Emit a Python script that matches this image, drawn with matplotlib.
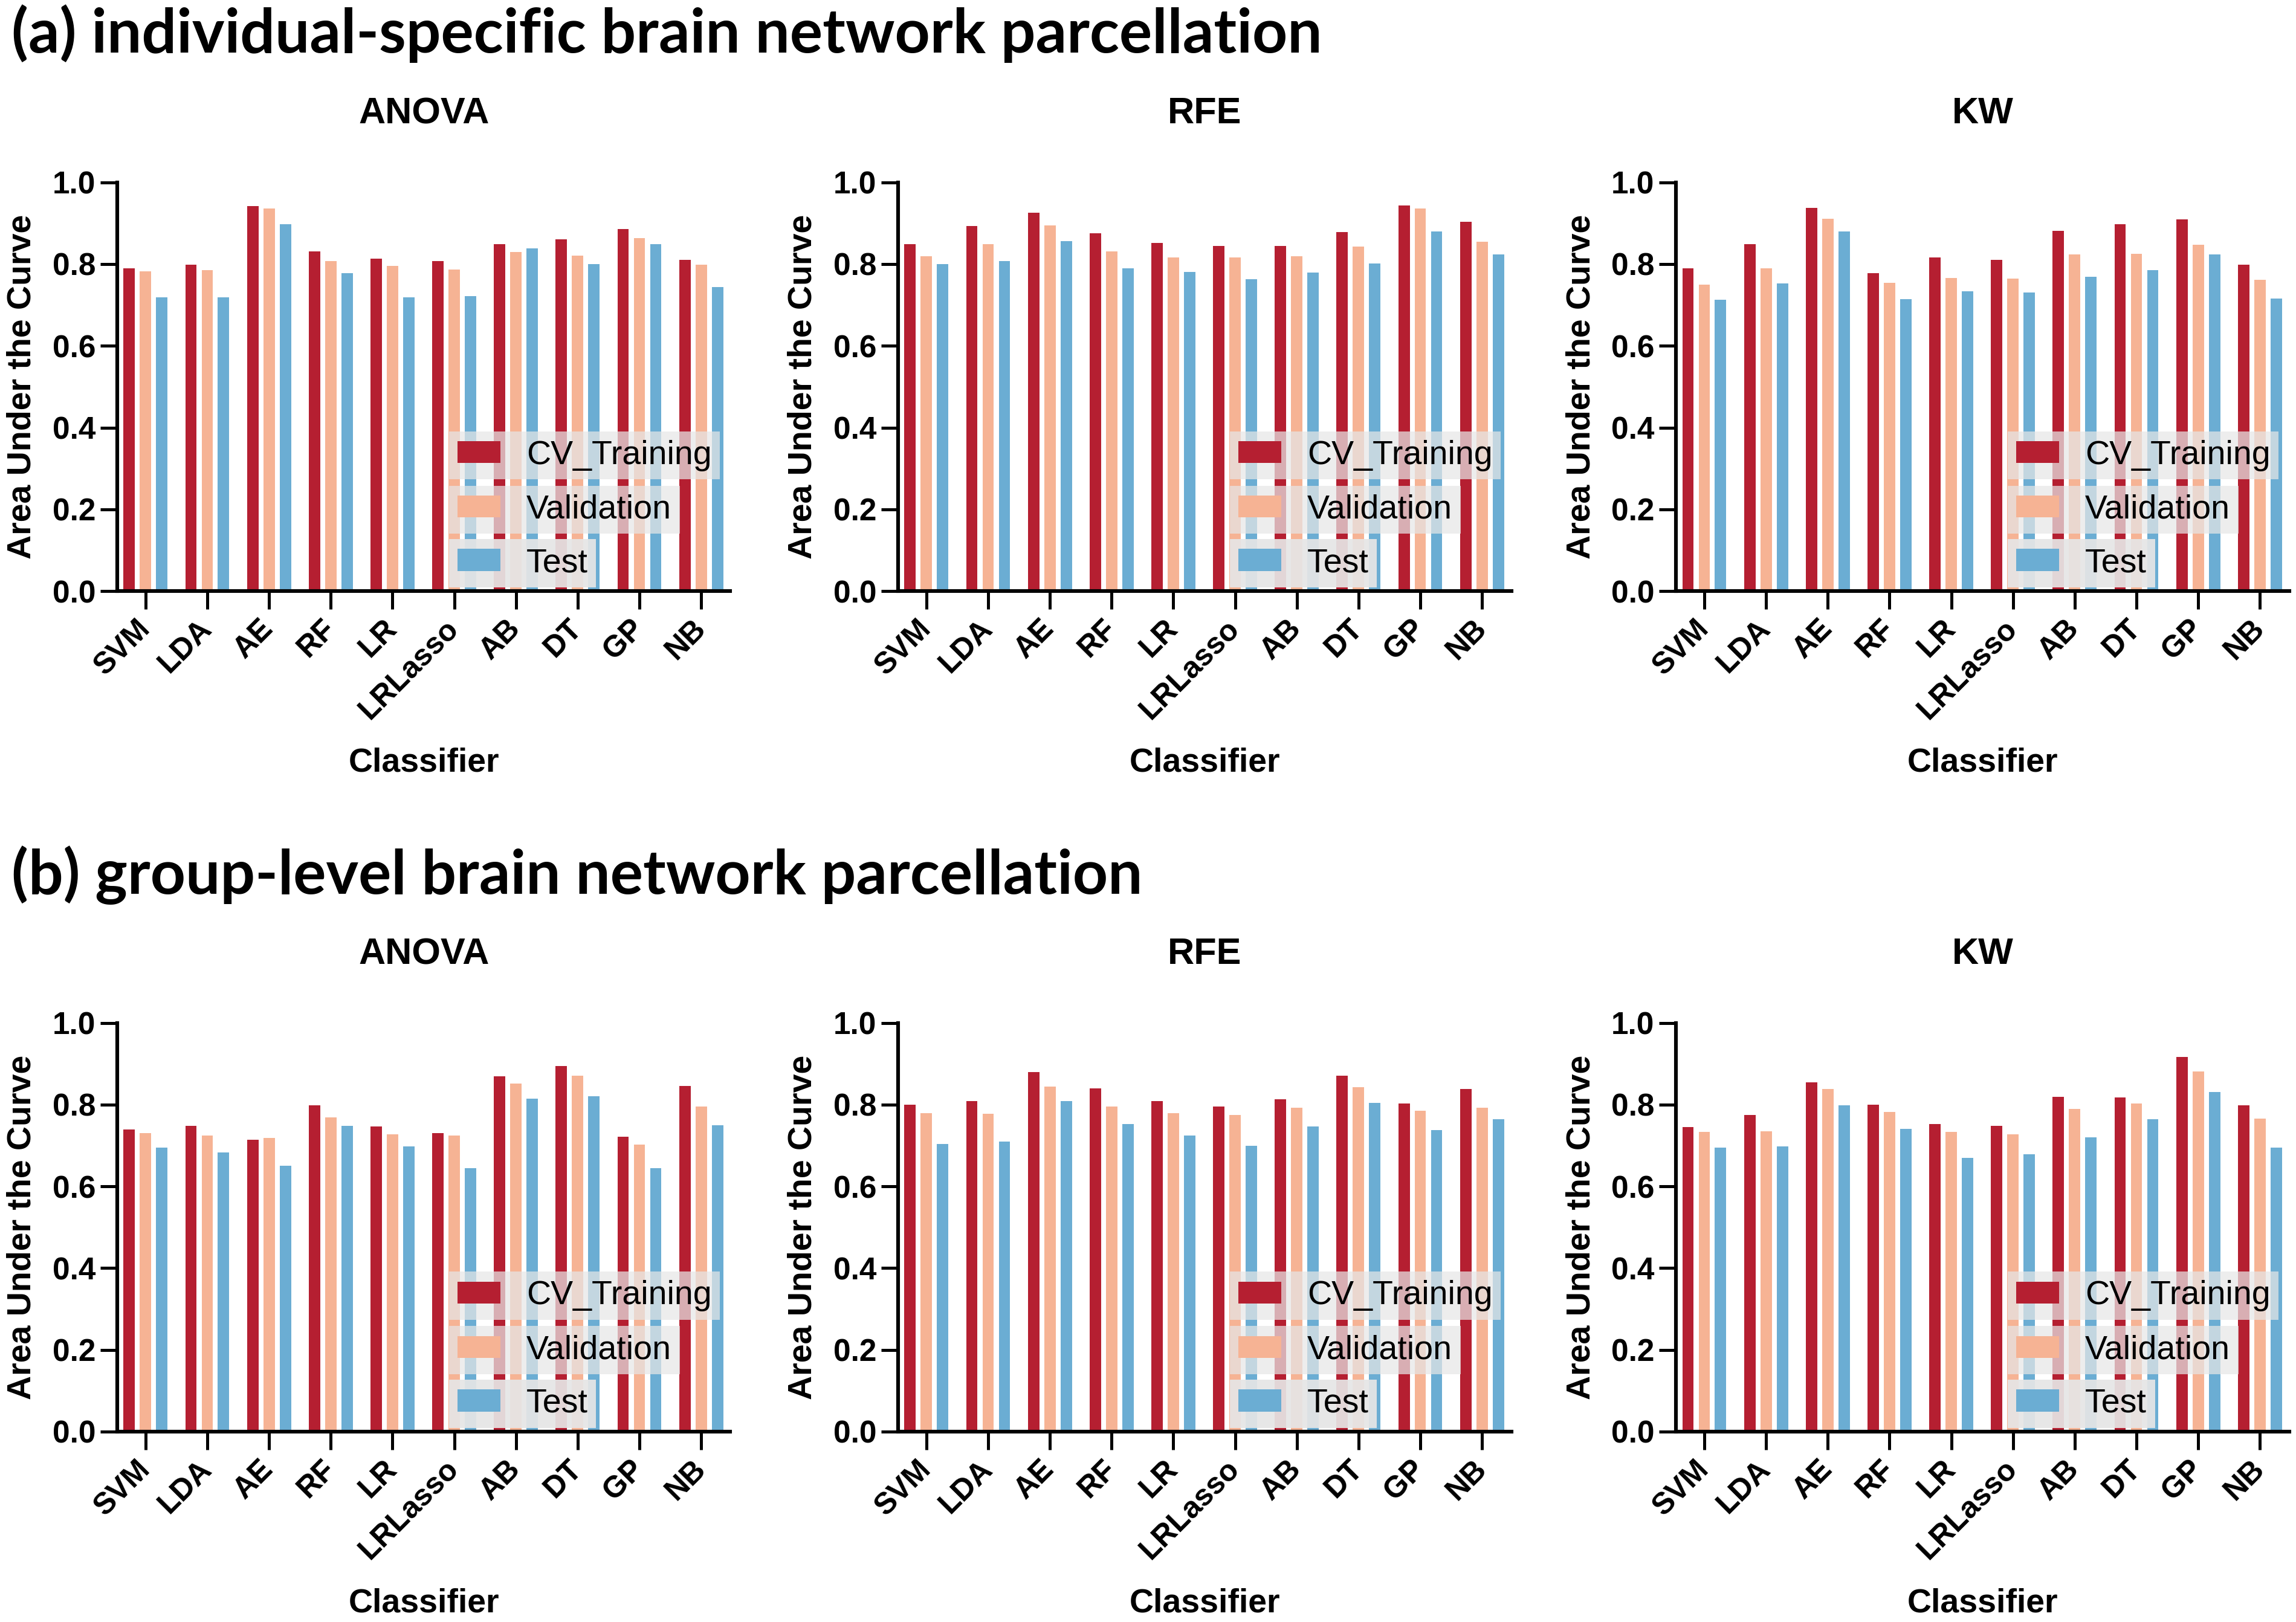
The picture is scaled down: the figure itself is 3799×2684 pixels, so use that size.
import numpy as np
import matplotlib
matplotlib.use("Agg")
import matplotlib.pyplot as plt

classifiers = ["SVM", "LDA", "AE", "RF", "LR", "LRLasso", "AB", "DT", "GP", "NB"]
series_names = ["CV_Training", "Validation", "Test"]
colors = ["#B51F31", "#F6B394", "#6BADD3"]
methods = ["ANOVA", "RFE", "KW"]

# (a) individual-specific parcellation
a_anova_cv = [0.790, 0.798, 0.942, 0.831, 0.813, 0.808, 0.849, 0.860, 0.885, 0.811]
a_anova_val = [0.782, 0.785, 0.936, 0.808, 0.795, 0.786, 0.830, 0.821, 0.863, 0.798]
a_anova_test = [0.718, 0.718, 0.897, 0.778, 0.718, 0.721, 0.839, 0.800, 0.848, 0.744]

a_rfe_cv = [0.849, 0.893, 0.926, 0.876, 0.852, 0.844, 0.844, 0.879, 0.943, 0.903]
a_rfe_val = [0.819, 0.849, 0.895, 0.831, 0.816, 0.816, 0.819, 0.843, 0.936, 0.854]
a_rfe_test = [0.800, 0.808, 0.856, 0.790, 0.780, 0.763, 0.779, 0.802, 0.880, 0.823]

a_kw_cv = [0.790, 0.848, 0.938, 0.778, 0.816, 0.811, 0.881, 0.897, 0.909, 0.799]
a_kw_val = [0.749, 0.790, 0.911, 0.754, 0.766, 0.764, 0.823, 0.825, 0.847, 0.762]
a_kw_test = [0.712, 0.752, 0.880, 0.714, 0.733, 0.731, 0.769, 0.785, 0.823, 0.716]

# (b) group-level parcellation
b_anova_cv = [0.739, 0.748, 0.714, 0.798, 0.747, 0.730, 0.869, 0.895, 0.721, 0.846]
b_anova_val = [0.730, 0.724, 0.718, 0.769, 0.727, 0.724, 0.852, 0.870, 0.702, 0.796]
b_anova_test = [0.695, 0.683, 0.650, 0.748, 0.698, 0.644, 0.814, 0.820, 0.645, 0.750]

b_rfe_cv = [0.800, 0.808, 0.879, 0.840, 0.809, 0.795, 0.813, 0.871, 0.802, 0.838]
b_rfe_val = [0.779, 0.777, 0.844, 0.795, 0.779, 0.775, 0.792, 0.842, 0.785, 0.793]
b_rfe_test = [0.703, 0.710, 0.809, 0.753, 0.725, 0.699, 0.746, 0.804, 0.737, 0.764]

b_kw_cv = [0.745, 0.775, 0.854, 0.800, 0.752, 0.748, 0.819, 0.818, 0.917, 0.798]
b_kw_val = [0.733, 0.734, 0.838, 0.782, 0.733, 0.727, 0.789, 0.802, 0.881, 0.766]
b_kw_test = [0.695, 0.698, 0.798, 0.740, 0.669, 0.679, 0.720, 0.764, 0.831, 0.695]

panels = {
    "a": [(a_anova_cv, a_anova_val, a_anova_test),
          (a_rfe_cv, a_rfe_val, a_rfe_test),
          (a_kw_cv, a_kw_val, a_kw_test)],
    "b": [(b_anova_cv, b_anova_val, b_anova_test),
          (b_rfe_cv, b_rfe_val, b_rfe_test),
          (b_kw_cv, b_kw_val, b_kw_test)],
}
row_titles = {"a": "(a) individual-specific brain network parcellation",
              "b": "(b) group-level brain network parcellation"}

plt.rcParams["font.family"] = ["Liberation Sans", "DejaVu Sans"]

fig = plt.figure(figsize=(18.995, 13.42), dpi=200)

lefts = [0.0511, 0.3912, 0.7300]
width = 0.2670
bottoms = {"a": 0.6356, "b": 0.1174}
height = 0.2520
title_y = {"a": 0.9676, "b": 0.4490}

x = np.arange(len(classifiers))
offsets = [-0.264, 0.0, 0.264]
bar_w = 0.185

for key in ["a", "b"]:
    fig.text(0.005, title_y[key], row_titles[key], family="Lato",
             fontweight="bold", fontsize=36.6, va="baseline", ha="left")
    for i, (cv, val, test) in enumerate(panels[key]):
        ax = fig.add_axes([lefts[i], bottoms[key], width, height])
        handles = []
        for vals, off, col, name in zip((cv, val, test), offsets, colors, series_names):
            h = ax.bar(x + off, vals, width=bar_w, color=col, label=name, zorder=2)
            handles.append(h)

        ax.set_xlim(-0.457, 9.473)
        ax.set_ylim(0, 1.0)
        ax.set_yticks(np.arange(0, 1.01, 0.2))
        ax.set_yticklabels([f"{v:.1f}" for v in np.arange(0, 1.01, 0.2)],
                           fontsize=18.5, fontweight="bold")
        ax.set_xticks(x)
        ax.set_xticklabels(classifiers, fontsize=18, fontweight="bold",
                           rotation=45, ha="right", va="center",
                           rotation_mode="anchor")
        ax.tick_params(axis="y", length=10, width=1.8, pad=3)
        ax.tick_params(axis="x", length=10.8, width=1.8, pad=9)
        for s in ["top", "right"]:
            ax.spines[s].set_visible(False)
        for s in ["left", "bottom"]:
            ax.spines[s].set_linewidth(2.2)

        ax.text(0.5, 1.167, methods[i], transform=ax.transAxes, ha="center",
                va="center", fontsize=22, fontweight="bold")
        ax.set_xlabel("Classifier", fontsize=20, fontweight="bold")
        ax.xaxis.set_label_coords(0.5, -0.421)
        ax.xaxis.label.set_va("center")
        ax.set_ylabel("Area Under the Curve", fontsize=20, fontweight="bold")
        ax.yaxis.set_label_coords(-0.155, 0.5)
        ax.yaxis.label.set_va("center")

        # one legend box per entry, stacked like the original
        row_bottoms = [0.273, 0.140, 0.009]
        for h, name, yb in zip(handles, series_names, row_bottoms):
            leg = ax.legend([h], [name], loc="lower left",
                            bbox_to_anchor=(0.541, yb), borderaxespad=0,
                            fontsize=20, frameon=True, fancybox=False,
                            borderpad=0.25, handlelength=1.28,
                            handleheight=0.63, handletextpad=0.77)
            leg.get_frame().set_facecolor((0.90, 0.90, 0.90))
            leg.get_frame().set_edgecolor("none")
            leg.get_frame().set_alpha(0.72)
            leg.set_zorder(5)
            ax.add_artist(leg)

fig.savefig("out.png", dpi=200)
